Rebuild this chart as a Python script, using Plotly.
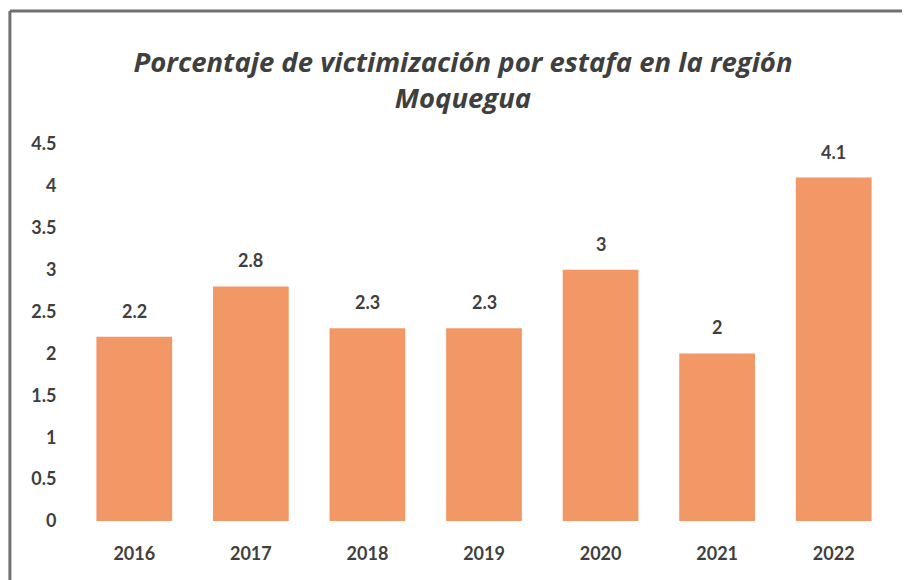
import plotly.graph_objects as go

# Data
years = ['2016', '2017', '2018', '2019', '2020', '2021', '2022']
values = [2.2, 2.8, 2.3, 2.3, 3, 2, 4.1]
value_labels = ['2.2', '2.8', '2.3', '2.3', '3', '2', '4.1']
y_ticks = [0, 0.5, 1, 1.5, 2, 2.5, 3, 3.5, 4, 4.5]
y_tick_text = ['0', '0.5', '1', '1.5', '2', '2.5', '3', '3.5', '4', '4.5']

TEXT = '#3f3f3f'
BAR = '#F29866'
FONT = 'Lato'

fig = go.Figure()
fig.add_trace(go.Bar(x=years, y=values, marker=dict(color=BAR, line_width=0)))

# value labels above each bar (category index positions on the x axis)
for i, (v, lab) in enumerate(zip(values, value_labels)):
    fig.add_annotation(x=i, y=v, text='<b>' + lab + '</b>', showarrow=False,
                       yanchor='bottom', yshift=13,
                       font=dict(family=FONT, size=18, color=TEXT))

fig.update_layout(
    width=910, height=580,
    margin=dict(l=68, r=26, t=136, b=67, autoexpand=False),
    paper_bgcolor='white', plot_bgcolor='white',
    bargap=0.35,
    showlegend=False,
    title=dict(text='<b><i>Porcentaje de victimización por estafa en la región<br>Moquegua</i></b>',
               x=0.5, xanchor='center', y=0.89, yanchor='top',
               font=dict(family='Open Sans', size=27.5, color=TEXT)),
)
fig.update_xaxes(type='category', range=[-0.5, 6.5], showline=False,
                 tickvals=years, ticktext=['<b>' + y + '</b>' for y in years],
                 ticks='outside', ticklen=16, tickcolor='rgba(0,0,0,0)',
                 tickfont=dict(family=FONT, size=18, color=TEXT))
fig.update_yaxes(range=[0, 4.5], showgrid=False, zeroline=False, showline=False,
                 tickvals=y_ticks, ticktext=['<b>' + t + '</b>' for t in y_tick_text],
                 ticks='outside', ticklen=15, tickcolor='rgba(0,0,0,0)',
                 tickfont=dict(family=FONT, size=18, color=TEXT))

# scanned frame around the chart
fig.add_shape(type='line', xref='paper', yref='paper', x0=-0.081, x1=1.04, y0=1.353, y1=1.353,
              line=dict(color='#707070', width=3))
fig.add_shape(type='line', xref='paper', yref='paper', x0=-0.081, x1=-0.081, y0=1.353, y1=-0.18,
              line=dict(color='#707070', width=3))

fig.write_html('out.html')
